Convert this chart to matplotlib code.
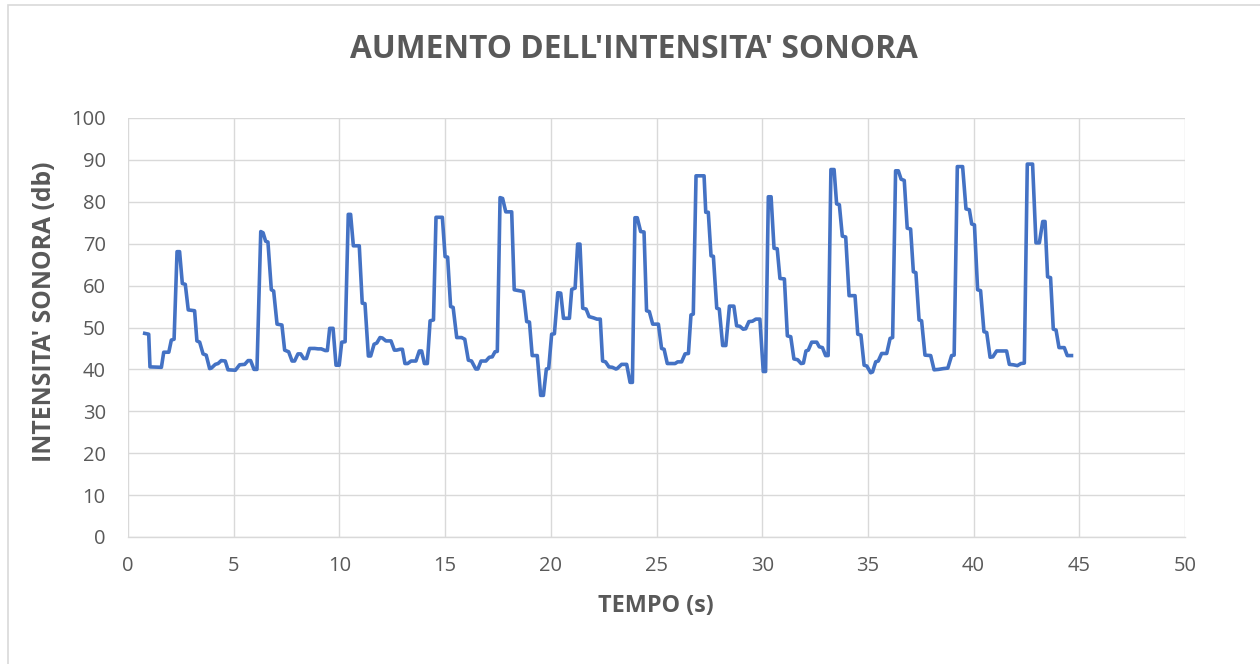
import matplotlib
matplotlib.use("Agg")
import matplotlib.pyplot as plt
from matplotlib.patches import Rectangle

# --- dati -------------------------------------------------------------------
tempo = [
    0.79, 0.98, 1.04, 1.58, 1.69, 1.93, 2.05, 2.18, 2.32, 2.44, 2.57, 2.71, 2.85, 3.15, 3.26, 3.39,
    3.55, 3.70, 3.86, 3.94, 4.13, 4.26, 4.41, 4.60, 4.73, 5.08, 5.28, 5.52, 5.68, 5.80, 5.96, 6.10,
    6.28, 6.39, 6.51, 6.62, 6.78, 6.89, 7.05, 7.28, 7.41, 7.60, 7.76, 7.88, 8.04, 8.17, 8.31, 8.44,
    8.59, 8.83, 8.99, 9.14, 9.33, 9.43, 9.54, 9.70, 9.84, 9.99, 10.11, 10.27, 10.42, 10.53, 10.66, 10.94,
    11.08, 11.21, 11.37, 11.48, 11.64, 11.77, 11.92, 12.03, 12.20, 12.44, 12.60, 12.71, 12.87, 12.98, 13.10, 13.23,
    13.39, 13.62, 13.78, 13.89, 14.02, 14.16, 14.29, 14.45, 14.57, 14.87, 15.00, 15.12, 15.26, 15.38, 15.55, 15.78,
    15.93, 16.10, 16.25, 16.45, 16.55, 16.70, 16.93, 17.09, 17.23, 17.36, 17.47, 17.60, 17.72, 17.87, 18.15, 18.27,
    18.70, 18.86, 18.99, 19.12, 19.36, 19.52, 19.65, 19.79, 19.90, 20.04, 20.17, 20.33, 20.47, 20.60, 20.88, 20.99,
    21.15, 21.27, 21.38, 21.51, 21.67, 21.81, 22.02, 22.18, 22.34, 22.45, 22.59, 22.75, 22.91, 23.08, 23.14, 23.35,
    23.59, 23.75, 23.86, 23.98, 24.09, 24.25, 24.41, 24.53, 24.66, 24.82, 25.09, 25.24, 25.36, 25.51, 25.88, 26.00,
    26.19, 26.35, 26.51, 26.63, 26.74, 26.87, 27.25, 27.33, 27.45, 27.58, 27.69, 27.85, 27.97, 28.13, 28.28, 28.45,
    28.66, 28.79, 28.94, 29.10, 29.22, 29.37, 29.54, 29.70, 29.89, 30.05, 30.16, 30.29, 30.42, 30.56, 30.71, 30.84,
    31.05, 31.19, 31.35, 31.50, 31.68, 31.84, 31.95, 32.07, 32.18, 32.34, 32.58, 32.70, 32.85, 33.00, 33.12, 33.25,
    33.40, 33.52, 33.65, 33.79, 33.95, 34.11, 34.39, 34.52, 34.67, 34.82, 34.95, 35.13, 35.22, 35.37, 35.49, 35.65,
    35.89, 36.05, 36.17, 36.31, 36.44, 36.57, 36.72, 36.86, 37.02, 37.15, 37.27, 37.42, 37.54, 37.70, 37.97, 38.13,
    38.34, 38.58, 38.78, 38.96, 39.08, 39.23, 39.48, 39.64, 39.80, 39.91, 40.04, 40.19, 40.33, 40.49, 40.62, 40.78,
    40.91, 41.09, 41.56, 41.69, 41.88, 42.07, 42.24, 42.40, 42.54, 42.79, 42.95, 43.11, 43.27, 43.38, 43.50, 43.64,
    43.77, 43.90, 44.04, 44.29, 44.43, 44.63,
]
intensita = [
    48.6, 48.4, 40.6, 40.5, 44.1, 44.1, 47.0, 47.2, 68.1, 68.1, 60.5, 60.3, 54.2, 54.0, 46.8, 46.5,
    43.7, 43.4, 40.2, 40.3, 41.2, 41.4, 42.1, 42.0, 39.9, 39.8, 41.1, 41.2, 42.1, 42.1, 40.0, 40.0,
    72.9, 72.6, 70.6, 70.4, 59.0, 58.7, 50.8, 50.6, 44.6, 44.2, 42.0, 42.0, 43.7, 43.7, 42.6, 42.6,
    45.0, 45.0, 44.9, 44.9, 44.5, 44.5, 49.8, 49.8, 41.0, 41.0, 46.5, 46.6, 77.0, 77.0, 69.5, 69.5,
    55.8, 55.7, 43.2, 43.2, 46.0, 46.3, 47.6, 47.5, 46.8, 46.8, 44.6, 44.6, 44.8, 44.8, 41.4, 41.4,
    42.0, 42.0, 44.4, 44.4, 41.4, 41.4, 51.6, 51.8, 76.3, 76.3, 66.9, 66.8, 55.0, 54.8, 47.6, 47.6,
    47.2, 42.2, 42.0, 40.1, 40.1, 42.0, 42.0, 42.9, 43.0, 44.2, 44.3, 81.0, 80.8, 77.6, 77.6, 59.0,
    58.6, 51.4, 51.3, 43.3, 43.3, 33.8, 33.8, 40.1, 40.2, 48.4, 48.5, 58.3, 58.2, 52.2, 52.2, 59.1,
    59.4, 69.9, 69.9, 54.6, 54.4, 52.6, 52.3, 52.0, 52.0, 42.0, 41.8, 40.6, 40.5, 40.1, 40.2, 41.2,
    41.2, 36.9, 36.9, 76.2, 76.2, 72.9, 72.8, 54.0, 53.8, 50.8, 50.8, 45.0, 44.8, 41.4, 41.4, 41.8,
    41.8, 43.7, 43.8, 53.0, 53.2, 86.2, 86.2, 77.5, 77.5, 67.1, 67.0, 54.6, 54.4, 45.7, 45.7, 55.1,
    55.1, 50.4, 50.3, 49.6, 49.7, 51.4, 51.5, 52.0, 52.0, 39.5, 39.5, 81.2, 81.2, 68.9, 68.8, 61.7,
    61.6, 48.0, 47.8, 42.5, 42.3, 41.4, 41.5, 44.4, 44.6, 46.5, 46.5, 45.4, 45.2, 43.3, 43.3, 87.7,
    87.7, 79.5, 79.3, 71.8, 71.6, 57.6, 57.6, 48.4, 48.2, 41.0, 40.8, 39.2, 39.4, 41.8, 42.0, 43.8,
    43.8, 47.4, 47.6, 87.4, 87.4, 85.4, 85.1, 73.7, 73.5, 63.3, 63.1, 51.8, 51.6, 43.4, 43.3, 39.9,
    40.0, 40.2, 40.3, 43.3, 43.4, 88.4, 88.4, 78.3, 78.1, 74.7, 74.5, 59.0, 58.8, 49.0, 48.8, 42.9,
    43.0, 44.4, 44.4, 41.2, 41.1, 40.9, 41.4, 41.5, 89.0, 89.0, 70.2, 70.2, 75.3, 75.3, 62.1, 61.9,
    49.6, 49.4, 45.2, 45.2, 43.3, 43.3,
]
x_ticks = [0, 5, 10, 15, 20, 25, 30, 35, 40, 45, 50]
y_ticks = [0, 10, 20, 30, 40, 50, 60, 70, 80, 90, 100]

# --- stile ------------------------------------------------------------------
C_LINE = "#4472C4"
C_TEXT = "#595959"
C_GRID = "#d9d9d9"
FONT = ["Open Sans", "DejaVu Sans"]

plt.rcParams["font.family"] = FONT

fig = plt.figure(figsize=(12.6, 6.64), dpi=100)
# bordo area grafico (stile Excel)
fig.patches.append(Rectangle((8 / 1260, -0.1), 1.2, 1 - 5 / 664 + 0.1,
                             transform=fig.transFigure, fill=False,
                             edgecolor=C_GRID, linewidth=1.2))

ax = fig.add_axes([128 / 1260, 1 - 537 / 664, (1185 - 128) / 1260, (537 - 118) / 664])
ax.plot(tempo, intensita, color=C_LINE, linewidth=2.6, solid_joinstyle="round")

ax.set_xlim(0, 50)
ax.set_ylim(0, 100)
ax.set_xticks(x_ticks)
ax.set_yticks(y_ticks)
ax.grid(True, color=C_GRID, linewidth=1.0)
ax.set_axisbelow(True)
for s in ("top", "right", "left"):
    ax.spines[s].set_visible(False)
ax.spines["bottom"].set_color(C_GRID)
ax.spines["bottom"].set_linewidth(1.0)
ax.tick_params(length=0, labelsize=14.5, colors=C_TEXT)
ax.tick_params(axis="y", pad=16)
ax.tick_params(axis="x", pad=14)

fig.text(634 / 1260, 1 - 49 / 664, "AUMENTO DELL'INTENSITA' SONORA",
         ha="center", va="center", fontsize=22.8, weight="bold", color=C_TEXT)
fig.text(656 / 1260, 1 - 606 / 664, "TEMPO (s)",
         ha="center", va="center", fontsize=16.8, weight="bold", color=C_TEXT)
fig.text(45 / 1260, 1 - 312 / 664, "INTENSITA' SONORA (db)", rotation=90,
         ha="center", va="center", fontsize=17.8, weight="bold", color=C_TEXT)

fig.savefig("out.png", dpi=100)
